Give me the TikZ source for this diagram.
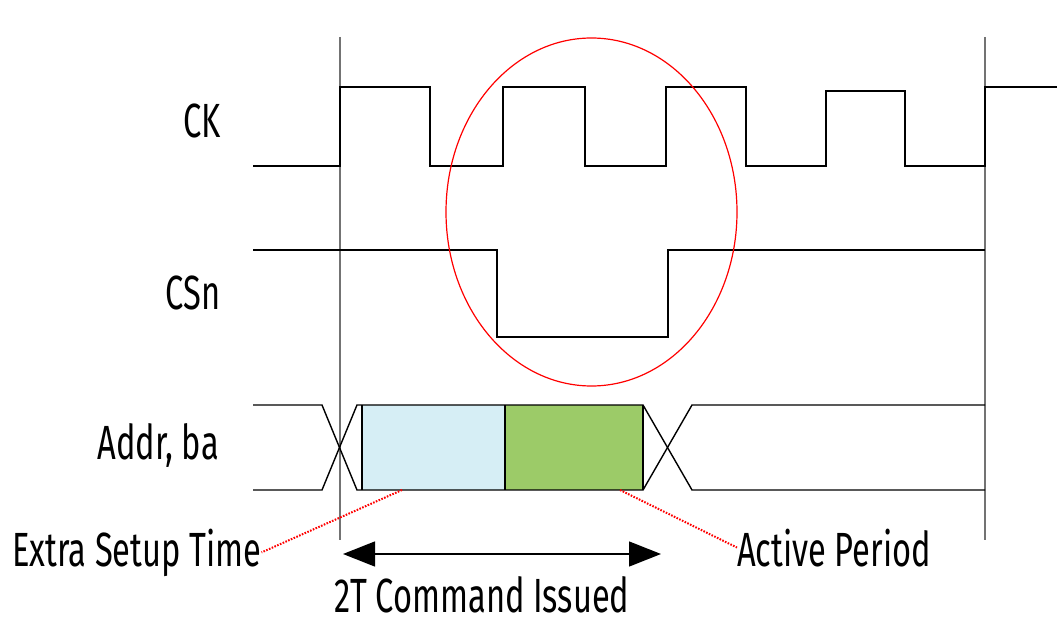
\documentclass[tikz,border=0pt]{standalone}
\usepackage{fontspec}
\setmainfont[FakeStretch=0.68]{Fira Sans}
\usepackage{tikz}
\usetikzlibrary{arrows.meta}
\definecolor{setupblue}{HTML}{D6EEF5}
\definecolor{activegreen}{HTML}{9CCB68}

\begin{document}
\begin{tikzpicture}[x=1pt,y=1pt]
\tikzstyle{every node}+=[inner sep=0pt, font=\fontsize{48}{52}\selectfont]
\tikzstyle{wave}=[black, line width=1.4pt]
\tikzstyle{marker}=[black!55, line width=1.8pt]
\tikzstyle{leader}=[red, line width=2pt, dash pattern=on 1.6pt off 1.4pt]
\useasboundingbox (0,0) rectangle (1057,-620);
\draw [marker] (340,-37) -- (340,-540);
\draw [marker] (985,-37) -- (985,-540);
\draw (221,-138) node [anchor=base east] (ck) {CK};
\draw (221,-309) node [anchor=base east] (csn) {CSn};
\draw (219,-459) node [anchor=base east] (addr) {Addr, ba};
\draw [wave] (253,-166) -- (340,-166) -- (340,-87) -- (430,-87) -- (430,-166) -- (503,-166) -- (503,-87) -- (585,-87) -- (585,-166) -- (666,-166) -- (666,-87) -- (746,-87) -- (746,-166) -- (826,-166) -- (826,-91) -- (905,-91) -- (905,-166) -- (985,-166) -- (985,-87) -- (1057,-87);
\draw [wave] (253,-250) -- (497,-250) -- (497,-337) -- (668,-337) -- (668,-250) -- (985,-250);
\fill [setupblue] (362,-405) rectangle (505,-490);
\fill [activegreen] (505,-405) rectangle (643,-490);
\draw [wave] (253,-405) -- (322,-405) -- (357,-490) -- (643,-490) -- (692,-405) -- (985,-405);
\draw [wave] (253,-490) -- (322,-490) -- (357,-405) -- (643,-405) -- (692,-490) -- (985,-490);
\draw [wave] (362,-405) -- (362,-490);
\draw [wave] (505,-405) -- (505,-490);
\draw [wave] (643,-405) -- (643,-490);
\draw [red, line width=1.2pt] (591.5,-212) ellipse (145.5pt and 174pt);
\draw (12,-566) node [anchor=base west] (setup) {Extra Setup Time};
\draw (737,-566) node [anchor=base west] (active) {Active Period};
\draw (482,-612) node [anchor=base] (cmd) {2T Command Issued};
\coordinate (setupend) at (402,-490);
\coordinate (activeend) at (620,-490);
\draw [leader] (setupend) -- (setup.east);
\draw [leader] (activeend) -- (active.west);
\coordinate (cmdleft) at (343,-554);
\coordinate (cmdright) at (661,-554);
\draw [black, line width=1.4pt, {Triangle[length=32pt,width=25pt]}-{Triangle[length=32pt,width=25pt]}] (cmdleft) -- (cmdright);
\end{tikzpicture}
\end{document}
